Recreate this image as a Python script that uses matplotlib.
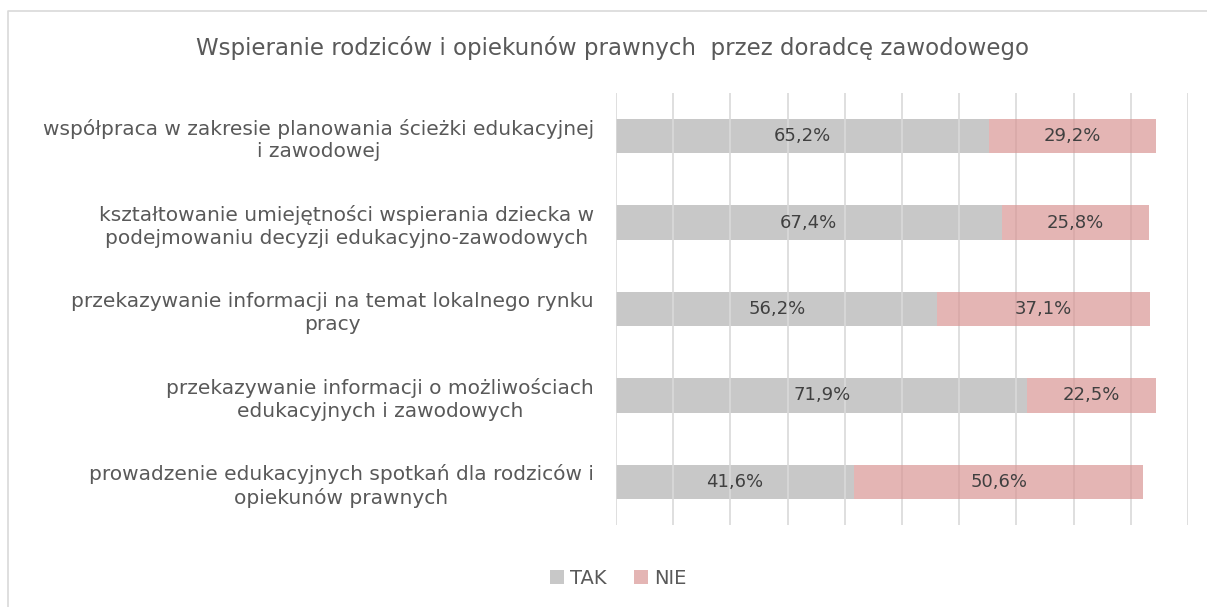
import matplotlib.pyplot as plt
from matplotlib.lines import Line2D
import numpy as np

categories = [
    "współpraca w zakresie planowania ścieżki edukacyjnej\ni zawodowej",
    "kształtowanie umiejętności wspierania dziecka w\npodejmowaniu decyzji edukacyjno-zawodowych",
    "przekazywanie informacji na temat lokalnego rynku\npracy",
    "przekazywanie informacji o możliwościach\nedukacyjnych i zawodowych",
    "prowadzenie edukacyjnych spotkań dla rodziców i\nopiekunów prawnych",
]
tak = [65.2, 67.4, 56.2, 71.9, 41.6]
nie = [29.2, 25.8, 37.1, 22.5, 50.6]
series_names = ["TAK", "NIE"]

TEXT = "#595959"
W, H = 1207, 607

plt.rcParams["font.family"] = ["DejaVu Sans"]

fig = plt.figure(figsize=(W / 100, H / 100), dpi=100)

# chart area border: only top and left edges fall inside the picture
fig.lines.append(Line2D([8 / W, 8 / W, 1.0], [0, 1 - 11 / H, 1 - 11 / H],
                        transform=fig.transFigure, color="#d9d9d9", lw=1.2))

ax = fig.add_axes((616 / W, 1 - 525 / H, (1188 - 616) / W, (525 - 93) / H))

y = np.arange(len(categories))
b1 = ax.barh(y, tak, height=0.4, color="#c8c8c8", label=series_names[0], zorder=1)
b2 = ax.barh(y, nie, left=tak, height=0.4, color="#d99694", alpha=0.7,
             label=series_names[1], zorder=3)

for bars in (b1, b2):
    for r in bars:
        v = r.get_width()
        ax.text(r.get_x() + v / 2, r.get_y() + r.get_height() / 2,
                f"{v:.1f}%".replace(".", ","), ha="center", va="center",
                fontsize=13, color="#404040", zorder=4)

ax.set_xlim(0, 100)
ax.set_ylim(len(categories) - 0.5, -0.5)
ax.set_xticks(np.arange(0, 101, 10))
ax.set_xticklabels([])
ax.tick_params(axis="x", length=0)
ax.tick_params(axis="y", length=0, pad=16)
ax.grid(axis="x", color="#d9d9d9", lw=1.2, zorder=2)
ax.set_axisbelow(False)
for s in ax.spines.values():
    s.set_visible(False)

ax.set_yticks(y)
ax.set_yticklabels(categories, fontsize=14.5, color=TEXT, multialignment="center",
                   linespacing=1.25)

fig.text(612 / W, 1 - 48 / H,
         "Wspieranie rodziców i opiekunów prawnych  przez doradcę zawodowego",
         ha="center", va="center", fontsize=16.5, color=TEXT)

fig.legend(loc="center", bbox_to_anchor=(618 / W, 1 - 578 / H), ncol=2,
           frameon=False, fontsize=14, labelcolor=TEXT, handlelength=0.75,
           handleheight=0.75, handletextpad=0.3, columnspacing=1.4)

fig.savefig("out.png", dpi=100)
